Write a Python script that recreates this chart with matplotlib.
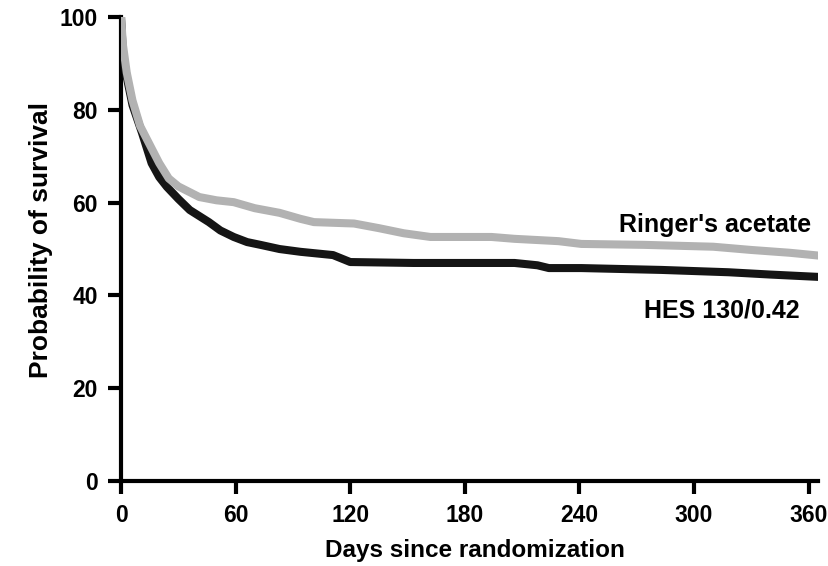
import matplotlib
matplotlib.use("Agg")
import matplotlib.pyplot as plt

plt.rcParams['font.family'] = ['Liberation Sans', 'DejaVu Sans']
plt.rcParams['font.weight'] = 'bold'

# Ringer's acetate (grey curve)
ringer_days = [0, 1, 3, 6, 10, 15, 20, 25, 30, 41, 50, 59, 70, 83, 94, 101, 122, 135, 148,
               162, 194, 206, 229, 241, 274, 310, 330, 350, 365]
ringer_surv = [100, 94, 88, 82, 76.5, 72.5, 68.5, 65.2, 63.5, 61.2, 60.5, 60.1, 58.8, 57.8,
               56.5, 55.8, 55.5, 54.5, 53.4, 52.6, 52.6, 52.2, 51.7, 51.1, 50.9, 50.5, 49.8,
               49.2, 48.6]

# HES 130/0.42 (black curve)
hes_days = [0, 1, 3, 6, 11, 16, 20, 24, 30, 36, 46, 52, 59, 66, 73, 83, 94, 111, 120, 153,
            206, 218, 224, 241, 283, 318, 340, 365]
hes_surv = [100, 92, 87, 81, 75, 68.5, 65.5, 63.4, 60.8, 58.4, 55.8, 54, 52.6, 51.5, 50.9,
            50, 49.4, 48.7, 47.2, 47, 47, 46.5, 45.9, 45.9, 45.5, 45, 44.5, 44]

x_ticks = [0, 60, 120, 180, 240, 300, 360]
y_ticks = [0, 20, 40, 60, 80, 100]

fig = plt.figure(figsize=(8.29, 5.66), dpi=100)
ax = fig.add_axes([0.146, 0.150, 0.841, 0.820])

ax.plot(hes_days, hes_surv, color='#151515', lw=5.8, solid_capstyle='round', zorder=3)
ax.plot(ringer_days, ringer_surv, color='#b2b2b2', lw=5.8, solid_capstyle='round', zorder=4)

ax.text(361.5, 53.7, "Ringer's acetate", ha='right', va='baseline', fontsize=18, fontweight='bold')
ax.text(355.3, 35.3, "HES 130/0.42", ha='right', va='baseline', fontsize=18, fontweight='bold')

ax.set_xlim(0, 365)
ax.set_ylim(0, 100)
ax.set_xticks(x_ticks)
ax.set_yticks(y_ticks)
for s in ['top', 'right']:
    ax.spines[s].set_visible(False)
for s in ['left', 'bottom']:
    ax.spines[s].set_linewidth(3)
ax.tick_params(width=3, length=9.5, labelsize=16.5, pad=7)
for lab in ax.get_xticklabels() + ax.get_yticklabels():
    lab.set_fontweight('bold')

ax.set_xlabel("Days since randomization", fontsize=17.5, fontweight='bold')
ax.set_ylabel("Probability of survival", fontsize=19, fontweight='bold')
ax.xaxis.set_label_coords(0.507, -0.125)
ax.yaxis.set_label_coords(-0.097, 0.519)

fig.savefig("out.png", dpi=100)
